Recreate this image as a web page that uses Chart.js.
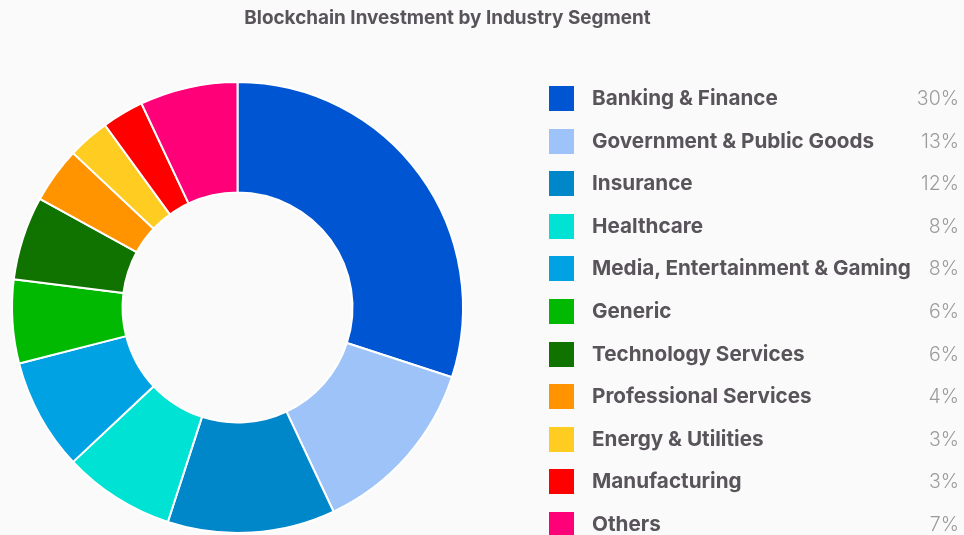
<!DOCTYPE html>
<html>
<head>
<meta charset="utf-8">
<script src="https://cdn.jsdelivr.net/npm/chart.js@4/dist/chart.umd.min.js"></script>
<style>
  html, body { margin:0; padding:0; background:#fafafa; }
  #wrap { position:relative; width:964px; height:535px; overflow:hidden; background:#fafafa; font-family: Inter, "Open Sans", sans-serif; }
  #title { position:absolute; left:0; width:895px; top:5px; text-align:center; font-weight:700; font-size:18.9px; color:#58545a; line-height:26px; }
  #chart { position:absolute; left:0; top:0; }
  #legend { position:absolute; left:0; top:0; width:964px; height:535px; pointer-events:none; }
  .row { position:absolute; left:549px; width:410px; height:26px; }
  .box { position:absolute; left:0; top:0; width:25px; height:25px; }
  .lab { position:absolute; left:43px; top:-1px; line-height:26px; font-size:20.7px; font-weight:700; color:#58545a; white-space:nowrap; }
  .pct { position:absolute; right:0; top:-1px; line-height:26px; font-size:19.5px; font-weight:300; color:#9b9b9b; white-space:nowrap; }
</style>
</head>
<body>
<div id="wrap">
  <canvas id="chart" width="964" height="535"></canvas>
  <div id="title">Blockchain Investment by Industry Segment</div>
  <div id="legend"></div>
</div>
<script>
const categories = [
  "Banking & Finance",
  "Government & Public Goods",
  "Insurance",
  "Healthcare",
  "Media, Entertainment & Gaming",
  "Generic",
  "Technology Services",
  "Professional Services",
  "Energy & Utilities",
  "Manufacturing",
  "Others"
];
const shares = [30, 13, 12, 8, 8, 6, 6, 4, 3, 3, 7];
const colors = ["#0055d3", "#9dc3f9", "#0087c9", "#00e2d3", "#00a2e3", "#00b900", "#107300", "#ff9300", "#ffcc22", "#ff0000", "#ff0078"];

new Chart(document.getElementById('chart'), {
  type: 'doughnut',
  data: {
    labels: categories,
    datasets: [{
      data: shares,
      backgroundColor: colors,
      borderColor: '#ffffff',
      borderWidth: 2,
      hoverOffset: 0
    }]
  },
  options: {
    responsive: false,
    animation: false,
    devicePixelRatio: 1,
    cutout: '51%',
    layout: { padding: { left: 11, top: 81, right: 500, bottom: 1 } },
    plugins: {
      legend: { display: false },
      title: { display: false },
      tooltip: { enabled: false }
    }
  }
});

const legend = document.getElementById('legend');
categories.forEach((c, i) => {
  const row = document.createElement('div');
  row.className = 'row';
  row.style.top = (86 + i * 42.6) + 'px';
  const box = document.createElement('div');
  box.className = 'box';
  box.style.background = colors[i];
  const lab = document.createElement('div');
  lab.className = 'lab';
  lab.textContent = c;
  const pct = document.createElement('div');
  pct.className = 'pct';
  pct.textContent = shares[i] + '%';
  row.appendChild(box); row.appendChild(lab); row.appendChild(pct);
  legend.appendChild(row);
});
</script>
</body>
</html>
